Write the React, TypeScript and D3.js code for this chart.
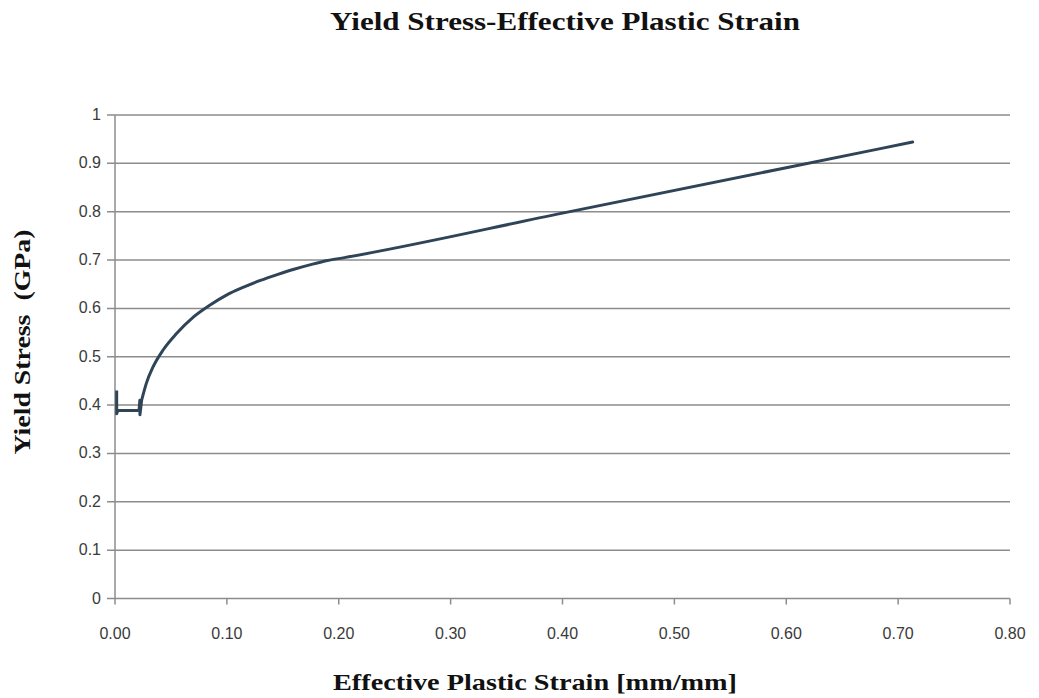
import React from "react";
import * as d3 from "d3";

const title = "Yield Stress-Effective Plastic Strain";
const xTitle = "Effective Plastic Strain [mm/mm]";
const yTitle = "Yield Stress  (GPa)";
const xTicks = [0, 0.1, 0.2, 0.3, 0.4, 0.5, 0.6, 0.7, 0.8];
const yTicks = [0, 0.1, 0.2, 0.3, 0.4, 0.5, 0.6, 0.7, 0.8, 0.9, 1];
const strain = [0.0015, 0.0015, 0.0025, 0.012, 0.0215, 0.0222, 0.0223, 0.0238, 0.028, 0.034, 0.043, 0.055, 0.07, 0.085, 0.1, 0.115, 0.13, 0.145, 0.16, 0.175, 0.19, 0.205, 0.4, 0.6, 0.713];
const stress = [0.43, 0.382, 0.389, 0.389, 0.389, 0.41, 0.38, 0.41, 0.445, 0.479, 0.514, 0.548, 0.582, 0.607, 0.628, 0.644, 0.658, 0.67, 0.681, 0.6905, 0.699, 0.705, 0.797, 0.891, 0.944];

export default function App() {
  const W = 1039, H = 698;
  const x = d3.scaleLinear().domain([0, 0.8]).range([115, 1010]);
  const y = d3.scaleLinear().domain([0, 1]).range([598.5, 115]);
  const pts: [number, number][] = strain.map((s, i) => [s, stress[i]]);
  const lin = d3.line<[number, number]>().x(d => x(d[0])).y(d => y(d[1]));
  const smooth = d3.line<[number, number]>().x(d => x(d[0])).y(d => y(d[1])).curve(d3.curveMonotoneX);
  const grid = "#8c8c8c";
  const lc = "#2f4457";
  return (
    <svg width={W} height={H} style={{ position: "absolute", left: 0, top: 0, background: "#fff" }}>
      <rect width={W} height={H} fill="#fff" />
      <text x={565} y={30} textAnchor="middle" fontFamily="Liberation Serif" fontWeight="bold" fontSize={25} fill="#111" textLength={470} lengthAdjust="spacingAndGlyphs">{title}</text>
      {yTicks.map(t => (
        <g key={t}>
          <line x1={107} x2={x(0.8)} y1={y(t)} y2={y(t)} stroke={grid} strokeWidth={1.5} />
          <text x={101} y={y(t) + 5} textAnchor="end" fontFamily="Liberation Sans" fontSize={16} fill="#3a3a3a">{String(t)}</text>
        </g>
      ))}
      <line x1={115} x2={115} y1={y(1)} y2={y(0)} stroke={grid} strokeWidth={1.5} />
      {xTicks.map(t => (
        <g key={t}>
          <line x1={x(t)} x2={x(t)} y1={y(0)} y2={y(0) + 6} stroke={grid} strokeWidth={1.5} />
          <text x={x(t)} y={639} textAnchor="middle" fontFamily="Liberation Sans" fontSize={16} fill="#3a3a3a">{t.toFixed(2)}</text>
        </g>
      ))}
      <path d={lin(pts.slice(0, 8)) || ""} fill="none" stroke={lc} strokeWidth={3} strokeLinejoin="round" />
      <path d={smooth(pts.slice(7)) || ""} fill="none" stroke={lc} strokeWidth={3} strokeLinejoin="round" strokeLinecap="round" />
      <text x={535} y={690} textAnchor="middle" fontFamily="Liberation Serif" fontWeight="bold" fontSize={24} fill="#111" textLength={404} lengthAdjust="spacingAndGlyphs">{xTitle}</text>
      <text transform={`translate(30,342) rotate(-90)`} textAnchor="middle" fontFamily="Liberation Serif" fontWeight="bold" fontSize={23} fill="#111" textLength={225} lengthAdjust="spacingAndGlyphs" style={{ whiteSpace: "pre" }}>{yTitle}</text>
    </svg>
  );
}
